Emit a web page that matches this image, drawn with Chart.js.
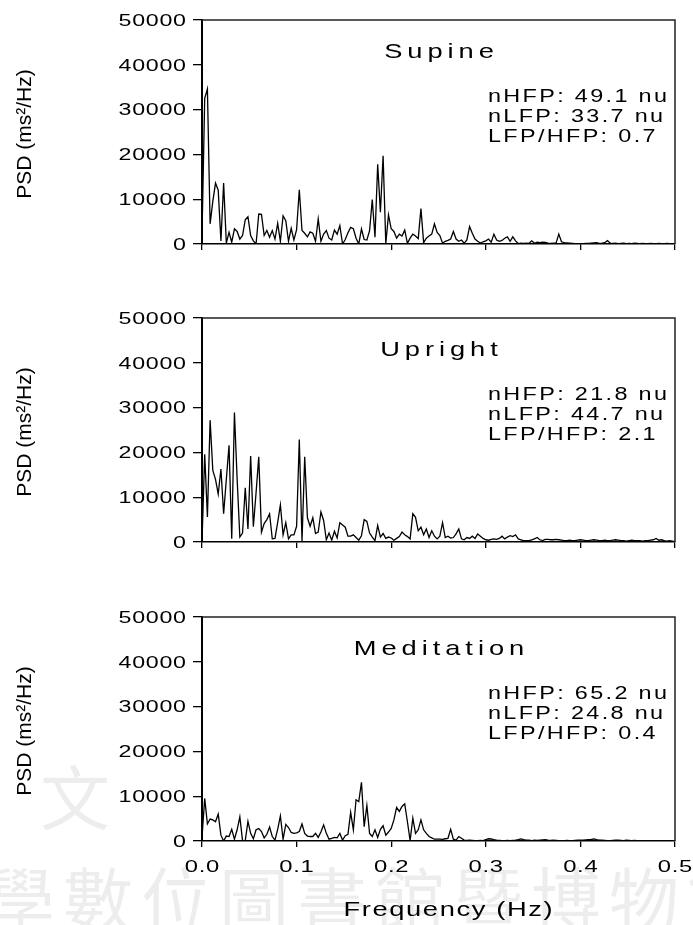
<!DOCTYPE html>
<html>
<head>
<meta charset="utf-8">
<script src="https://cdn.jsdelivr.net/npm/chart.js@4.4.1/dist/chart.umd.min.js"></script>
<style>
  html, body { margin: 0; padding: 0; background: #fff; }
  #page { position: relative; width: 693px; height: 925px; overflow: hidden; }
  .wm { position: absolute; font-family: "Noto Sans CJK TC"; color: rgba(0, 0, 0, 0.07); font-size: 70px; line-height: 1; white-space: nowrap; }
  canvas { position: absolute; left: 0; }
</style>
</head>
<body>
<div id="page">
  <div class="wm" style="left:40px; top:760px;">文</div>
  <div class="wm" style="left:-15px; top:862px; letter-spacing:8px;">學數位圖書館暨博物館</div>
  <canvas id="supineChart" style="top:0" width="693" height="298"></canvas>
  <canvas id="uprightChart" style="top:298px" width="693" height="299"></canvas>
  <canvas id="meditationChart" style="top:597px" width="693" height="328"></canvas>
</div>
<script>
// frequency bins (Hz) between points
var binHz = 0.5 / 175;

var yTicks = [0, 10000, 20000, 30000, 40000, 50000];
var xTicks = [0, 0.1, 0.2, 0.3, 0.4, 0.5];
var xTickLabels = ["0.0", "0.1", "0.2", "0.3", "0.4", "0.5"];

// PSD values (ms^2/Hz), one per bin
var supineValues = [
  2000, 32500, 34600, 4500, 9500, 13600, 12000, 700, 13600, 200,
  2600, 400, 3400, 2800, 1100, 1900, 5400, 6100, 1900, 700,
  0, 6700, 6600, 1900, 3000, 1500, 3000, 1100, 4600, 600,
  6300, 5200, 600, 3500, 900, 3200, 12100, 3000, 2400, 1600,
  2700, 2400, 600, 5600, 600, 2200, 3000, 1300, 900, 3100,
  2200, 4100, 0, 1000, 2500, 3700, 3400, 1300, 0, 3400,
  1000, 900, 3000, 9900, 1500, 17800, 7100, 19700, 100, 6500,
  3400, 2800, 1300, 2200, 1800, 3100, 150, 1300, 2200, 1800,
  1200, 7900, 300, 1300, 1800, 2200, 4500, 2600, 1900, 200,
  600, 800, 1100, 2800, 1100, 600, 900, 200, 900, 3900,
  2400, 1100, 600, 200, 500, 700, 1100, 400, 2200, 900,
  600, 800, 1300, 1600, 600, 1600, 700, 100, 200, 150,
  200, 150, 700, 150, 400, 300, 400, 350, 200, 150,
  200, 200, 2200, 500, 300, 250, 200, 150, 100, 100,
  50, 100, 150, 150, 200, 250, 300, 150, 200, 300,
  750, 200, 150, 200, 100, 150, 200, 100, 150, 100,
  200, 150, 100, 150, 100, 100, 150, 100, 100, 150,
  100, 100, 150, 100, 100, 50
];

var uprightValues = [
  0, 19600, 5600, 27200, 16000, 14000, 10700, 16300, 6300, 14000,
  21600, 750, 28900, 14000, 1100, 2000, 12100, 2900, 19200, 3400,
  11000, 19000, 2200, 4100, 5000, 6300, 700, 800, 4400, 8300,
  1600, 4300, 700, 1600, 1600, 3500, 22900, 150, 19000, 5400,
  3500, 5400, 1900, 2200, 6700, 4800, 500, 2000, 400, 2400,
  900, 4300, 3800, 3300, 1300, 1300, 1600, 1000, 400, 1400,
  5000, 4600, 2000, 1100, 300, 3700, 1100, 1900, 800, 1100,
  900, 400, 800, 1200, 2200, 1600, 1200, 700, 6300, 5500,
  2500, 3300, 1600, 2900, 1000, 2500, 1300, 700, 1300, 4300,
  1000, 1300, 900, 1000, 1800, 2900, 700, 500, 1000, 800,
  1300, 800, 1800, 1300, 800, 500, 400, 600, 700, 600,
  800, 1300, 700, 1100, 1400, 1200, 1600, 700, 500, 300,
  300, 300, 500, 700, 1000, 500, 300, 600, 600, 500,
  500, 600, 500, 400, 300, 300, 400, 300, 300, 400,
  500, 400, 300, 300, 400, 500, 400, 300, 300, 400,
  300, 300, 400, 500, 400, 300, 300, 200, 300, 400,
  300, 300, 300, 200, 300, 300, 400, 500, 800, 400,
  500, 300, 200, 300, 200, 100
];

var meditationValues = [
  800, 9500, 3800, 4900, 4700, 4300, 6000, 1300, 0, 1100,
  1000, 2600, 400, 2500, 5400, 100, 100, 4400, 1700, 500,
  2500, 2800, 2100, 700, 1500, 3100, 1000, 200, 2600, 5600,
  400, 3700, 3000, 1900, 1700, 1800, 2100, 3800, 1700, 1100,
  1000, 1000, 1700, 800, 2000, 3600, 1700, 400, 600, 800,
  700, 1700, 200, 1200, 1500, 6400, 2500, 9200, 8800, 13100,
  3200, 7900, 1700, 1000, 2500, 800, 2600, 3400, 1300, 2000,
  2800, 4700, 7500, 6600, 7700, 8300, 4300, 100, 5100, 1700,
  2500, 4700, 2500, 1700, 1000, 700, 400, 400, 400, 350,
  500, 600, 2600, 400, 200, 1000, 600, 200, 150, 200,
  150, 100, 100, 150, 100, 300, 500, 450, 300, 200,
  150, 100, 100, 150, 100, 150, 200, 300, 450, 300,
  200, 200, 100, 200, 150, 200, 250, 300, 200, 150,
  200, 150, 100, 100, 100, 150, 100, 100, 150, 200,
  200, 200, 250, 300, 350, 450, 300, 200, 200, 150,
  100, 100, 150, 200, 200, 150, 100, 200, 150, 100,
  150, 100, 100, 100, 50, 100, 100, 100, 50, 100,
  50, 50, 100, 50, 50, 0
];

var panelNames = ["Supine", "Upright", "Meditation"];
var panelStats = [
  ["nHFP: 49.1 nu", "nLFP: 33.7 nu", "LFP/HFP: 0.7"],
  ["nHFP: 21.8 nu", "nLFP: 44.7 nu", "LFP/HFP: 2.1"],
  ["nHFP: 65.2 nu", "nLFP: 24.8 nu", "LFP/HFP: 0.4"],
];

Chart.defaults.color = "#000";

// the original lettering is stretched wide, so widen it with a scale + spacing
function drawWide(ctx, text, x, y, size, stretch, spacing, align) {
  ctx.save();
  ctx.font = size + 'px "Liberation Sans", Arial, sans-serif';
  ctx.letterSpacing = spacing + "px";
  ctx.textAlign = "left";
  ctx.textBaseline = "alphabetic";
  ctx.fillStyle = "#000";
  var w = (ctx.measureText(text).width - spacing) * stretch;
  var left = x;
  if (align === "center") left = x - w / 2;
  if (align === "right") left = x - w;
  ctx.translate(left, y);
  ctx.scale(stretch, 1);
  ctx.fillText(text, 0, 0);
  ctx.restore();
}

var framePlugin = {
  id: "frame",
  afterDatasetsDraw: function (chart) {
    var a = chart.chartArea;
    var ctx = chart.ctx;
    ctx.save();
    ctx.strokeStyle = "#222";
    ctx.lineWidth = 1.5;
    ctx.beginPath();
    ctx.moveTo(a.left, a.top);
    ctx.lineTo(a.right, a.top);
    ctx.lineTo(a.right, a.bottom);
    ctx.stroke();
    ctx.restore();
  },
};

var textPlugin = {
  id: "panelText",
  afterDraw: function (chart, args, opts) {
    var a = chart.chartArea;
    var ctx = chart.ctx;
    var xs = chart.scales.x;
    var ys = chart.scales.y;

    // tick labels, placed by the scales
    yTicks.forEach(function (v) {
      drawWide(ctx, String(v), 186, ys.getPixelForValue(v) + 5.7, 16, 1.45, 0.5, "right");
    });
    if (opts.xTitle) {
      xTicks.forEach(function (v, i) {
        drawWide(ctx, xTickLabels[i], xs.getPixelForValue(v), a.bottom + 31, 17, 1.4, 0.5, "center");
      });
      drawWide(ctx, "Frequency (Hz)", 448, a.bottom + 75, 21, 1.3, 1.25, "center");
    }

    drawWide(ctx, opts.name, 439, a.top + 38, 21, 1.3, 3.8, "center");
    for (var i = 0; i < opts.stats.length; i++) {
      drawWide(ctx, opts.stats[i], 488, a.top + 82 + i * 20, 18, 1.3, 1.8, "left");
    }

    ctx.save();
    ctx.letterSpacing = "0px";
    ctx.font = '21px "Liberation Sans", Arial, sans-serif';
    ctx.fillStyle = "#000";
    ctx.textAlign = "center";
    ctx.textBaseline = "alphabetic";
    ctx.translate(31, (a.top + a.bottom) / 2 + 2);
    ctx.rotate(-Math.PI / 2);
    ctx.fillText("PSD (ms²/Hz)", 0, 0);
    ctx.restore();
  },
};

function makePanel(canvasId, values, idx, showXLabels) {
  var canvas = document.getElementById(canvasId);
  var H = canvas.height;
  var points = values.map(function (v, i) {
    return { x: i * binHz, y: v };
  });

  return new Chart(canvas, {
    type: "line",
    data: {
      datasets: [
        {
          data: points,
          borderColor: "#000",
          borderWidth: 1.3,
          pointRadius: 0,
          tension: 0,
          fill: false,
        },
      ],
    },
    options: {
      responsive: false,
      animation: false,
      events: [],
      layout: { padding: { left: 0, right: 18, top: 20, bottom: 0 } },
      plugins: {
        legend: { display: false },
        tooltip: { enabled: false },
        panelText: {
          name: panelNames[idx],
          stats: panelStats[idx],
          xTitle: showXLabels,
        },
      },
      scales: {
        x: {
          type: "linear",
          min: 0,
          max: 0.5,
          afterBuildTicks: function (scale) {
            scale.ticks = xTicks.map(function (v) {
              return { value: v };
            });
          },
          afterFit: function (scale) {
            scale.height = H - 20 - 224;
          },
          ticks: { display: false },
          grid: {
            drawOnChartArea: false,
            drawTicks: true,
            tickLength: 6,
            color: "#000",
            lineWidth: 1.3,
          },
          border: { display: true, color: "#000", width: 1.5 },
        },
        y: {
          min: 0,
          max: 50000,
          afterBuildTicks: function (scale) {
            scale.ticks = yTicks.map(function (v) {
              return { value: v };
            });
          },
          afterFit: function (scale) {
            scale.width = 202;
          },
          ticks: { display: false },
          grid: {
            drawOnChartArea: false,
            drawTicks: true,
            tickLength: 9,
            color: "#000",
            lineWidth: 1.3,
          },
          border: { display: true, color: "#000", width: 2 },
        },
      },
    },
    plugins: [framePlugin, textPlugin],
  });
}

makePanel("supineChart", supineValues, 0, false);
makePanel("uprightChart", uprightValues, 1, false);
makePanel("meditationChart", meditationValues, 2, true);
</script>
</body>
</html>
